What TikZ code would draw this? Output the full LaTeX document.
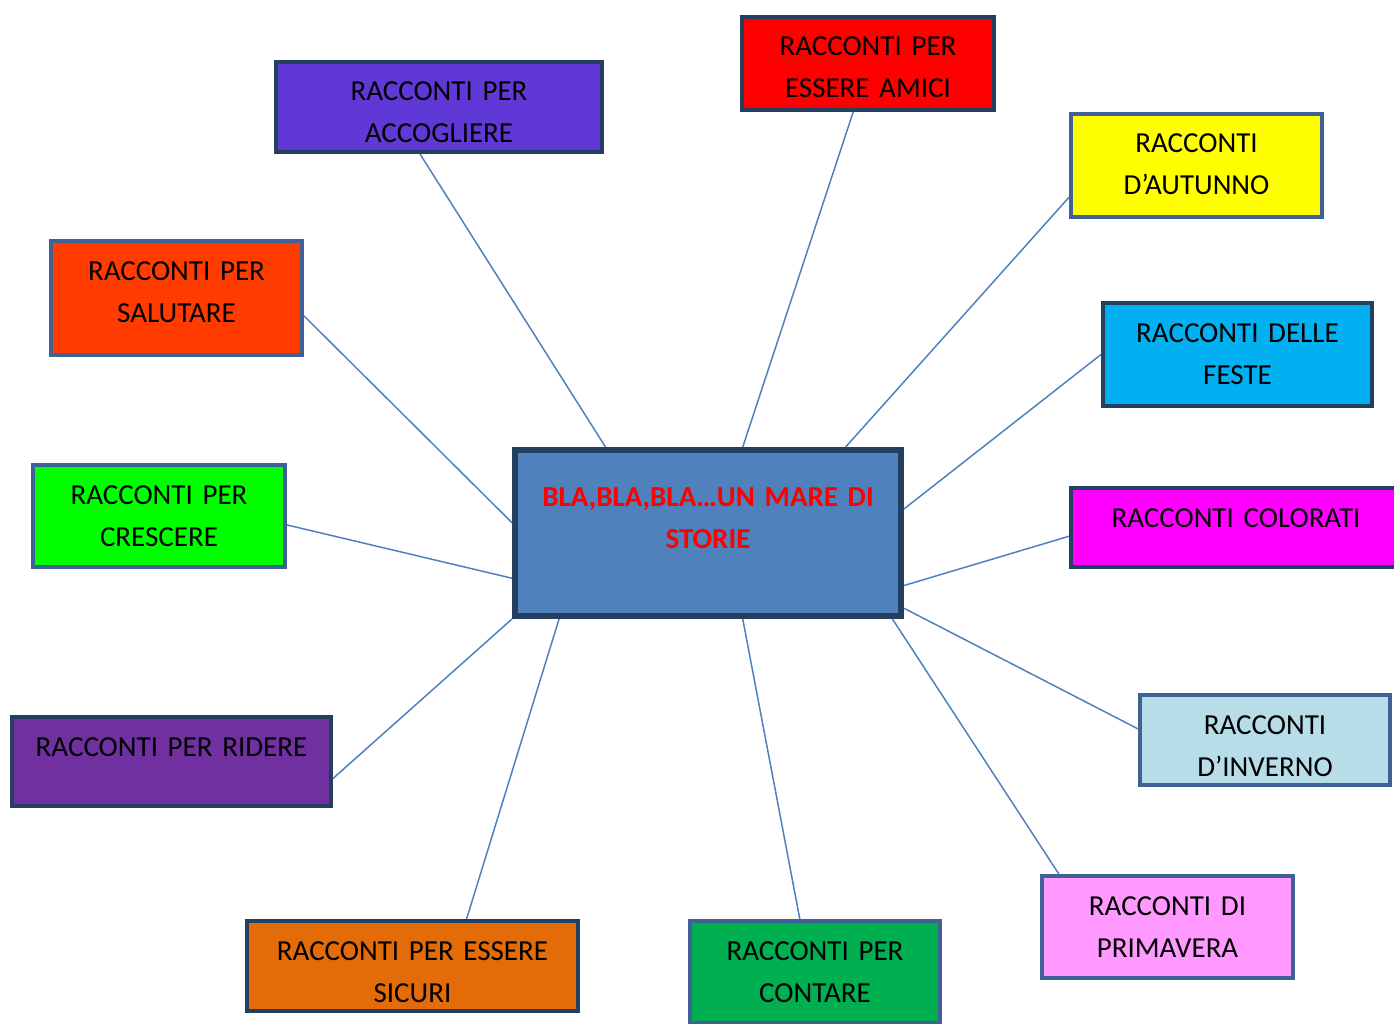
\documentclass[tikz,border=0pt]{standalone}
\usepackage{fontspec}
\setmainfont{Carlito}
\usepackage{xcolor}

\definecolor{bordoscuro}{RGB}{36,63,96}
\definecolor{bordochiaro}{RGB}{63,97,149}
\definecolor{linea}{RGB}{79,129,189}

\tikzset{
  tema/.style={draw=bordoscuro, line width=4pt, inner sep=0pt, align=center,
    text height=39pt, font=\fontsize{29pt}{42pt}\selectfont},
  chiaro/.style={draw=bordochiaro},
  filo/.style={draw=linea, line width=1.5pt}
}

\begin{document}
\begin{tikzpicture}[x=1pt,y=-1pt]
\useasboundingbox (0,0) rectangle (1394,1024);

%Shape: Rectangle - centre
\node [draw=bordoscuro, fill=linea, line width=6pt, inner sep=0pt, align=center,
  text width=386pt, text height=56.5pt, text depth=109.5pt,
  text={rgb,255:red,255;green,0;blue,0}, font=\fontsize{29pt}{42pt}\selectfont\bfseries]
  (mare) at (708,533) {BLA,BLA,BLA…UN MARE DI\\STORIE};

%Shape: Rectangle
\node [tema, fill={rgb,255:red,96;green,56;blue,214}, text width=326pt, text depth=51pt]
  (accogliere) at (439,107) {RACCONTI PER\\ACCOGLIERE};
%Shape: Rectangle
\node [tema, fill={rgb,255:red,255;green,0;blue,0}, text width=252pt, text depth=54pt]
  (amici) at (868,63.5) {RACCONTI PER\\ESSERE AMICI};
%Shape: Rectangle
\node [tema, chiaro, fill={rgb,255:red,255;green,255;blue,0}, text width=251pt, text depth=64pt]
  (autunno) at (1196.5,165.5) {RACCONTI\\D’AUTUNNO};
%Shape: Rectangle
\node [tema, fill={rgb,255:red,0;green,176;blue,240}, text width=269pt, text depth=64pt]
  (feste) at (1237.5,354.5) {RACCONTI DELLE\\FESTE};
%Shape: Rectangle
\node [tema, fill={rgb,255:red,255;green,0;blue,255}, text width=330pt, text depth=40pt]
  (colorati) at (1236,527.5) {RACCONTI COLORATI};
%Shape: Rectangle
\node [tema, chiaro, fill={rgb,255:red,183;green,221;blue,232}, text width=250pt, text depth=51pt]
  (inverno) at (1265,740) {RACCONTI\\D’INVERNO};
%Shape: Rectangle
\node [tema, chiaro, fill={rgb,255:red,255;green,153;blue,255}, text width=251pt, text depth=63pt]
  (primavera) at (1167.5,927) {RACCONTI DI\\PRIMAVERA};
%Shape: Rectangle
\node [tema, chiaro, fill={rgb,255:red,0;green,176;blue,80}, text width=250pt, text depth=63pt]
  (contare) at (815,972) {RACCONTI PER\\CONTARE};
%Shape: Rectangle
\node [tema, fill={rgb,255:red,227;green,108;blue,9}, text width=331pt, text depth=51pt]
  (sicuri) at (412.5,966) {RACCONTI PER ESSERE\\SICURI};
%Shape: Rectangle
\node [tema, fill={rgb,255:red,112;green,48;blue,160}, text width=319pt, text depth=50pt]
  (ridere) at (171.5,761.5) {RACCONTI PER RIDERE};
%Shape: Rectangle
\node [tema, chiaro, fill={rgb,255:red,0;green,255;blue,0}, text width=252pt, text depth=63pt]
  (crescere) at (159,516) {RACCONTI PER\\CRESCERE};
%Shape: Rectangle
\node [tema, chiaro, fill={rgb,255:red,255;green,59;blue,0}, text width=251pt, text depth=75pt]
  (salutare) at (176.5,298) {RACCONTI PER\\SALUTARE};

%Straight Lines
\draw [filo] (accogliere.-112) -- (mare.140);
\draw [filo] (amici.-107) -- (mare.68);
\draw [filo] (autunno.-166) -- (mare.32);
\draw [filo] (feste.west) -- (mare.7);
\draw [filo] (colorati.183) -- (mare.-15);
\draw [filo] (inverno.175) -- (mare.-21);
\draw [filo] (primavera.154) -- (mare.-25);
\draw [filo] (contare.106) -- (mare.-68);
\draw [filo] (sicuri.41) -- (mare.-150);
\draw [filo] (ridere.-6) -- (mare.south west);
\draw [filo] (crescere.-4) -- (mare.-167);
\draw [filo] (salutare.-8) -- (mare.177);

\end{tikzpicture}
\end{document}
